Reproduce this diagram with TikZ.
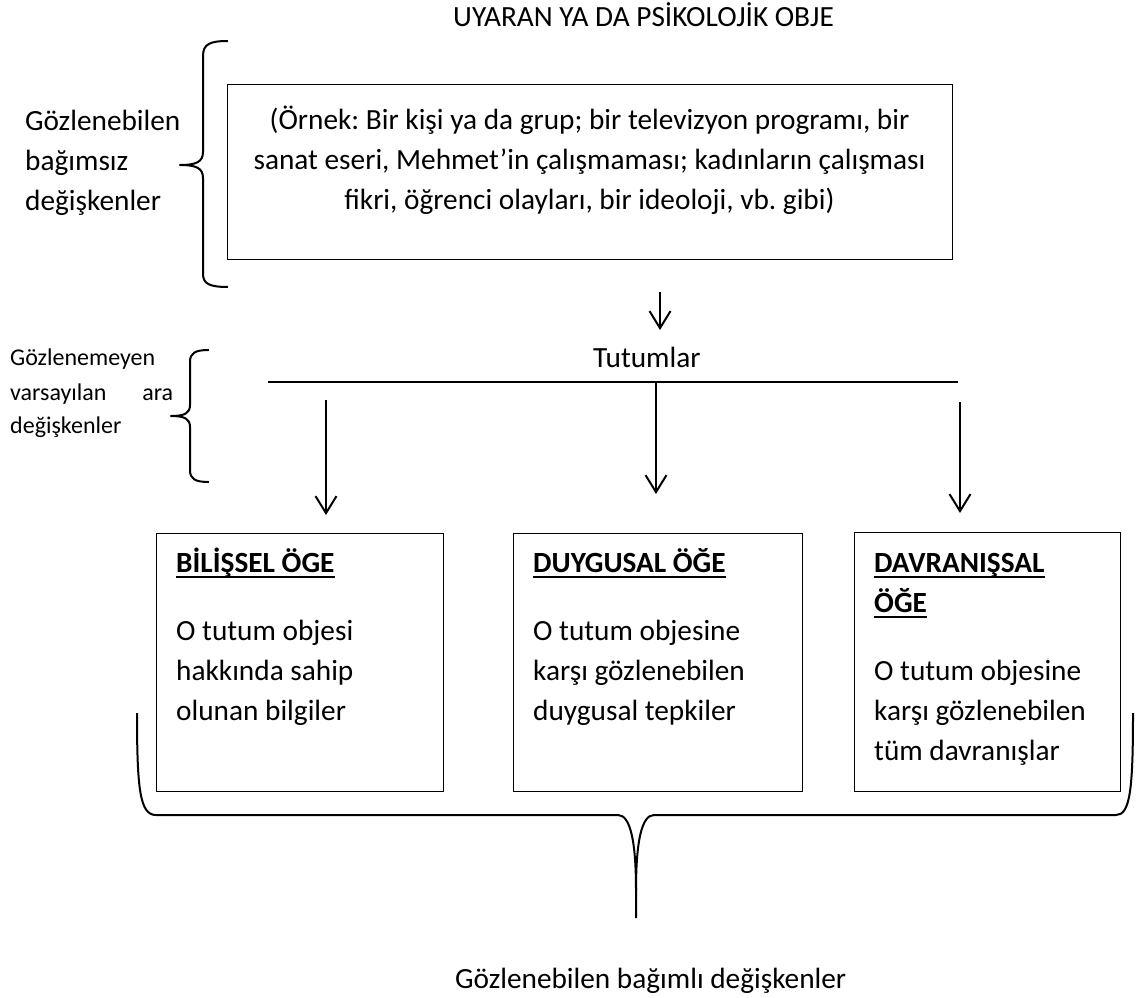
\documentclass[tikz,border=0pt]{standalone}
\usepackage{fontspec}
\setmainfont{Carlito}
\usetikzlibrary{arrows.meta}
\frenchspacing

\begin{document}
\begin{tikzpicture}[x=1pt,y=-1pt,
  txt/.style={inner sep=0pt, anchor=base west, font=\fontsize{29.3}{41}\selectfont},
  ctxt/.style={txt, anchor=base},
  small/.style={inner sep=0pt, anchor=base west, font=\fontsize{24}{34}\selectfont},
  head/.style={txt, font=\fontsize{29.3}{41}\selectfont\bfseries},
  frame/.style={draw, line width=1.3pt, anchor=north west, inner sep=0pt},
  brace/.style={draw, line width=2pt, line join=round},
  conn/.style={line width=2pt},
  arr/.style={line width=2pt, -{Straight Barb[length=17pt,width=21pt,line width=2pt]}},
  ul/.style={line width=2pt}]
\useasboundingbox (0,0) rectangle (1138,998);

% title
\node[txt] (title) at (453,27) {UYARAN YA DA PSİKOLOJİK OBJE};

% stimulus box
\node[frame, minimum width=725pt, minimum height=175pt] (obj) at (227,84) {};
\node[ctxt] (o1) at (589.5,129) {(Örnek: Bir kişi ya da grup; bir televizyon programı, bir};
\node[ctxt] (o2) at (589.5,169) {sanat eseri, Mehmet’in çalışmaması; kadınların çalışması};
\node[ctxt] (o3) at (589.5,209) {fikri, öğrenci olayları, bir ideoloji, vb. gibi)};

% independent variables label and brace
\node[txt] (l1) at (25,130) {Gözlenebilen};
\node[txt] (l2) at (25,170) {bağımsız};
\node[txt] (l3) at (25,210) {değişkenler};
\path[brace] (228,41) .. controls (210,41) and (203,44) .. (203,56) -- (203,152)
  .. controls (203,162) and (196,165) .. (180,165)
  .. controls (196,165) and (203,168) .. (203,178) -- (203,274)
  .. controls (203,284) and (210,287) .. (228,287);

% intervening variables label and brace
\node[small] (m1) at (10,365) {Gözlenemeyen};
\node[small] (m2) at (10,400) {\hbox to 163pt{varsayılan\hfill ara}};
\node[small] (m3) at (10,433) {değişkenler};
\path[brace] (209,350) .. controls (195,350) and (190,353) .. (190,362) -- (190,405)
  .. controls (190,413) and (185,416) .. (171,416)
  .. controls (185,416) and (190,419) .. (190,427) -- (190,470)
  .. controls (190,479) and (195,482) .. (209,482);

% attitudes
\coordinate (a0s) at (660,292);
\coordinate (a0e) at (660,330);
\draw[arr] (a0s) -- (a0e);
\node[txt] (tut) at (593,367) {Tutumlar};
\coordinate (barL) at (268,382);
\coordinate (barR) at (958,382);
\draw[conn] (barL) -- (barR);

\coordinate (a1s) at (326,400);
\coordinate (a1e) at (326,515);
\coordinate (a2s) at (656,382);
\coordinate (a2e) at (656,494);
\coordinate (a3s) at (960,402);
\coordinate (a3e) at (960,513);
\draw[arr] (a1s) -- (a1e);
\draw[arr] (a2s) -- (a2e);
\draw[arr] (a3s) -- (a3e);

% component boxes
\node[frame, minimum width=287pt, minimum height=258pt] (b1) at (156,533) {};
\node[frame, minimum width=289pt, minimum height=258pt] (b2) at (513,533) {};
\node[frame, minimum width=266pt, minimum height=259pt] (b3) at (854,532) {};

\node[head] (h1) at (176,572) {BİLİŞSEL ÖGE};
\draw[ul] ([yshift=-4.5pt]h1.base west) -- ([yshift=-4.5pt]h1.base east);
\node[txt] (p11) at (176,640) {O tutum objesi};
\node[txt] (p12) at (176,680) {hakkında sahip};
\node[txt] (p13) at (176,720) {olunan bilgiler};

\node[head] (h2) at (533,572) {DUYGUSAL ÖĞE};
\draw[ul] ([yshift=-4.5pt]h2.base west) -- ([yshift=-4.5pt]h2.base east);
\node[txt] (p21) at (533,640) {O tutum objesine};
\node[txt] (p22) at (533,680) {karşı gözlenebilen};
\node[txt] (p23) at (533,720) {duygusal tepkiler};

\node[head] (h3a) at (874,572) {DAVRANIŞSAL};
\draw[ul] ([yshift=-4.5pt]h3a.base west) -- ([yshift=-4.5pt]h3a.base east);
\node[head] (h3b) at (874,612) {ÖĞE};
\draw[ul] ([yshift=-4.5pt]h3b.base west) -- ([yshift=-4.5pt]h3b.base east);
\node[txt] (p31) at (874,680) {O tutum objesine};
\node[txt] (p32) at (874,720) {karşı gözlenebilen};
\node[txt] (p33) at (874,760) {tüm davranışlar};

% dependent variables brace
\path[brace] (137,713) .. controls (137,790) and (140,815) .. (156,815) -- (618,815)
  .. controls (630,815) and (636,840) .. (636,890) -- (636,918);
\path[brace] (636,890) .. controls (636,840) and (642,815) .. (654,815) -- (1116,815)
  .. controls (1130,815) and (1133,790) .. (1133,713);

\node[txt] (dep) at (455,988) {Gözlenebilen bağımlı değişkenler};
\end{tikzpicture}
\end{document}
